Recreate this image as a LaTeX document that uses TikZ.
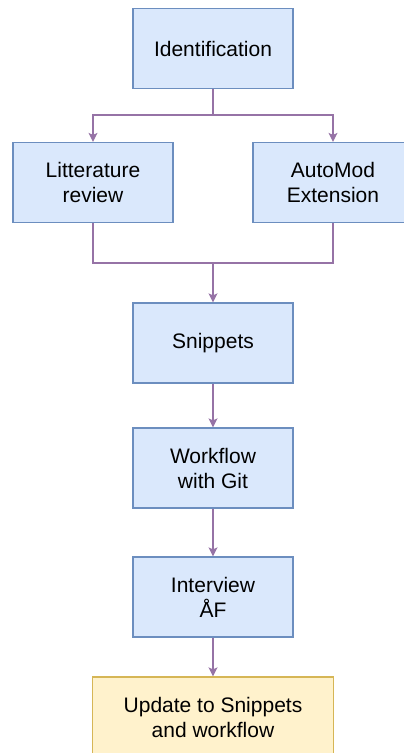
\documentclass[tikz,border=0pt]{standalone}
\usepackage{fontspec}
\setmainfont{Liberation Sans}
\usetikzlibrary{arrows.meta}
\definecolor{bluefill}{HTML}{DAE8FC}
\definecolor{blueline}{HTML}{6C8EBF}
\definecolor{yellowfill}{HTML}{FFF2CC}
\definecolor{yellowline}{HTML}{D6B656}
\definecolor{flowline}{HTML}{9673A6}
\begin{document}
\begin{tikzpicture}[x=1pt,y=-1pt,
  stepbox/.style={draw=blueline, fill=bluefill, line width=1.2pt,
    minimum width=160pt, minimum height=80pt, inner sep=0pt, align=center,
    font=\fontsize{21}{25}\selectfont},
  endbox/.style={stepbox, draw=yellowline, fill=yellowfill, minimum width=241pt},
  link/.style={draw=flowline, line width=1.2pt},
  flow/.style={link, -{Stealth[length=9pt,width=9pt,inset=2pt]}}]
  \useasboundingbox (0,0) rectangle (404,753);
  \fill[white] (0,0) rectangle (404,753);

  % process steps
  \node[stepbox] (ident) at (213,48.5) {Identification};
  \node[stepbox] (lit) at (93,182.5) {Litterature\\review};
  \node[stepbox] (auto) at (333,182.5) {AutoMod\\Extension};
  \node[stepbox] (snip) at (213,343) {Snippets};
  \node[stepbox] (work) at (213,468) {Workflow\\with Git};
  \node[stepbox] (interview) at (213,597) {Interview\\ÅF};
  \node[endbox] (update) at (213,717) {Update to Snippets\\and workflow};

  % split and join points
  \coordinate (split) at (213,115);
  \coordinate (join) at (213,263);

  % connectors
  \draw[link] (ident.south) -- (split);
  \draw[flow] (split) -| (lit.north);
  \draw[flow] (split) -| (auto.north);
  \draw[link] (lit.south) |- (join);
  \draw[link] (auto.south) |- (join);
  \draw[flow] (join) -- (snip.north);
  \draw[flow] (snip.south) -- (work.north);
  \draw[flow] (work.south) -- (interview.north);
  \draw[flow] (interview.south) -- (update.north);
\end{tikzpicture}
\end{document}
